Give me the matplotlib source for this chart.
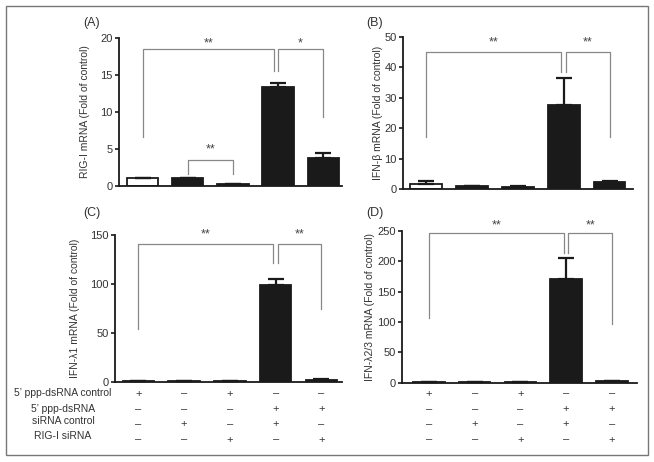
import numpy as np
import matplotlib
matplotlib.use('Agg')
import matplotlib.pyplot as plt
from matplotlib.patches import Rectangle

plt.rcParams['font.family'] = ['Liberation Sans', 'DejaVu Sans']

W, H = 654, 462

# data
positions = [0, 1, 2, 3, 4]
rig_mean = [1.0, 1.0, 0.2, 13.4, 3.8]
rig_err = [0.05, 0.05, 0.03, 0.6, 0.65]
ifnb_mean = [1.5, 1.0, 0.8, 27.6, 2.2]
ifnb_err = [1.0, 0.1, 0.1, 8.9, 0.4]
ifnl1_mean = [1.0, 1.0, 1.0, 99.0, 2.0]
ifnl1_err = [0.1, 0.1, 0.1, 6.0, 0.3]
ifnl23_mean = [1.0, 1.0, 1.5, 171.0, 3.0]
ifnl23_err = [0.1, 0.1, 0.2, 34.0, 0.5]

row_labels = ["5\u2019 ppp-dsRNA control", "5\u2019 ppp-dsRNA", "siRNA control", "RIG-I siRNA"]
row_signs = [["+", "-", "+", "-", "-"],
             ["-", "-", "-", "+", "+"],
             ["-", "+", "-", "+", "-"],
             ["-", "-", "+", "-", "+"]]


def px_axes(x0, x1, y_top, y_bot):
    return fig.add_axes([x0 / W, 1 - y_bot / H, (x1 - x0) / W, (y_bot - y_top) / H])


def panel(ax, means, errs, ymax, ystep, xlim, white_first, ylabel):
    colors = ['white' if (i == 0 and white_first) else '#1a1a1a' for i in positions]
    ax.bar(positions, means, width=0.69, color=colors, edgecolor='#1a1a1a', linewidth=1.3, zorder=2)
    ax.errorbar(positions, means, yerr=[np.zeros(5), errs], fmt='none', ecolor='#1a1a1a',
                elinewidth=1.6, capsize=6, capthick=1.6, zorder=3)
    ax.set_xlim(*xlim)
    ax.set_ylim(0, ymax)
    ax.set_yticks(np.arange(0, ymax + 0.1, ystep))
    ax.set_xticks([])
    for s in ['top', 'right']:
        ax.spines[s].set_visible(False)
    for s in ['left', 'bottom']:
        ax.spines[s].set_linewidth(1.3)
        ax.spines[s].set_color('#1a1a1a')
    ax.tick_params(axis='y', direction='out', length=3, width=1.2, labelsize=8,
                   labelcolor='#333333', color='#1a1a1a', pad=1.5)
    ax.set_ylabel(ylabel, fontsize=7.5, color='#333333')
    ax.patch.set_alpha(0)


def bracket(ax, x1, x2, ytop, y1, y2, label, ystar):
    ax.plot([x1, x1, x2, x2], [y1, ytop, ytop, y2], color='#888888', lw=0.9, clip_on=False, zorder=1)
    ax.text((x1 + x2) / 2, ystar, label, ha='center', va='center', fontsize=9,
            color='#444444', clip_on=False)


fig = plt.figure(figsize=(W / 100, H / 100), dpi=100)
fig.patches.append(Rectangle((6 / W, 1 - 455 / H), 642 / W, 449 / H, transform=fig.transFigure,
                             fill=False, edgecolor='#777777', linewidth=1.0))

axA = px_axes(119, 342, 38.3, 185.7)
panel(axA, rig_mean, rig_err, 20, 5, (-0.53, 4.42), True, 'RIG-I mRNA (Fold of control)')
bracket(axA, 0, 2.9, 18.5, 6.6, 15.5, '**', 19.3)
bracket(axA, 3.0, 4, 18.5, 15.5, 9.3, '*', 19.3)
bracket(axA, 1, 2, 3.5, 1.6, 1.6, '**', 4.9)

axB = px_axes(403, 633, 36.7, 189)
panel(axB, ifnb_mean, ifnb_err, 50, 10, (-0.5, 4.51), True, 'IFN-\u03b2 mRNA (Fold of control)')
bracket(axB, 0, 2.95, 45, 17, 38.5, '**', 48)
bracket(axB, 3.05, 4, 45, 38.5, 17, '**', 48)

axC = px_axes(115, 342, 235, 381.7)
panel(axC, ifnl1_mean, ifnl1_err, 150, 50, (-0.51, 4.45), False, 'IFN-\u03bb1 mRNA (Fold of control)')
bracket(axC, 0, 2.95, 141, 54, 121, '**', 151)
bracket(axC, 3.05, 4, 141, 121, 74, '**', 151)

axD = px_axes(402, 637, 231, 382.7)
panel(axD, ifnl23_mean, ifnl23_err, 250, 50, (-0.59, 4.55), False, 'IFN-\u03bb2/3 mRNA (Fold of control)')
bracket(axD, 0, 2.95, 246, 107, 213, '**', 259)
bracket(axD, 3.05, 4, 246, 213, 96, '**', 259)

# move y labels to measured spots
for ax, xl in [(axA, 90), (axB, 383), (axC, 80), (axD, 375)]:
    pos = ax.get_position()
    ax.yaxis.set_label_coords((xl / W - pos.x0) / pos.width, 0.5)

# panel letters
for txt, x, y in [('(A)', 92, 23), ('(B)', 375, 23), ('(C)', 92, 213), ('(D)', 375, 213)]:
    fig.text(x / W, 1 - y / H, txt, ha='center', va='center', fontsize=9, color='#333333')

# treatment table under C and D
label_y = [393, 408.5, 421.5, 436]
sign_y = [393.5, 409, 424.5, 439.5]
for lab, yy in zip(row_labels, label_y):
    fig.text(63 / W, 1 - yy / H, lab, ha='center', va='center', fontsize=7.5, color='#333333')
for ax in (axC, axD):
    for signs, yy in zip(row_signs, sign_y):
        for p, s in zip(positions, signs):
            xf = ax.transData.transform((p, 0))[0] / fig.dpi / fig.get_figwidth()
            fig.text(xf, 1 - yy / H, '+' if s == '+' else '\u2013', ha='center', va='center',
                     fontsize=8, color='#333333')

fig.savefig('out.png', dpi=100)
